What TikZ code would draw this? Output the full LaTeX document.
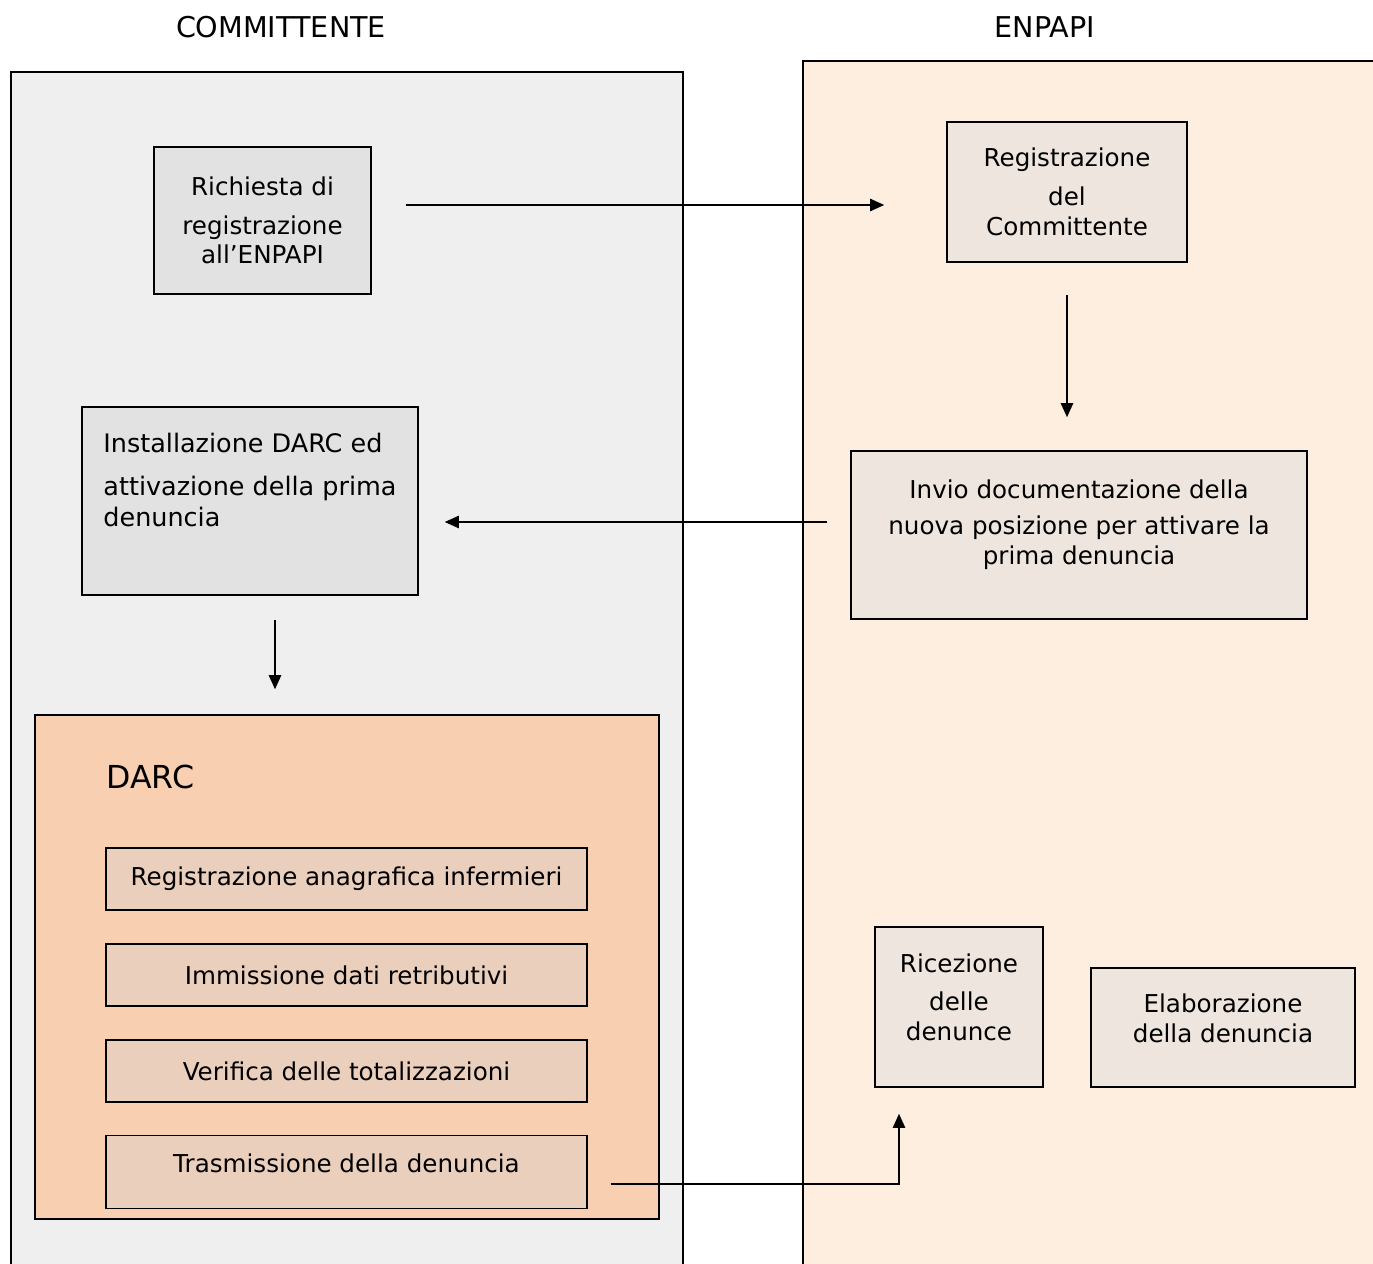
\documentclass[tikz,border=0pt]{standalone}
\usepackage{fontspec}
\setmainfont{DejaVu Sans}
\usetikzlibrary{arrows.meta,calc}

\definecolor{leftbg}{HTML}{EFEFEF}
\definecolor{rightbg}{HTML}{FDEEDF}
\definecolor{leftbox}{HTML}{E2E2E2}
\definecolor{rightbox}{HTML}{EEE6DE}
\definecolor{darcbg}{HTML}{F9CFB2}
\definecolor{darcrow}{HTML}{EBCFBD}

\begin{document}
\begin{tikzpicture}[x=0.02cm,y=-0.02cm,
    box/.style={draw,line width=0.9pt,inner sep=0pt,align=center,
      font=\fontsize{14}{17}\selectfont},
    arr/.style={-{Triangle[length=8pt,width=7pt]},line width=0.9pt}]
                \useasboundingbox (0,0) rectangle (1373,1264);
                \clip (0,0) rectangle (1373,1264);

                % Panels
                \fill[leftbg] (11,72) rectangle (683,1280);
                \draw[line width=0.9pt] (11,1280) -- (11,72) -- (683,72) -- (683,1280);
                \fill[rightbg] (803,61) rectangle (1390,1280);
                \draw[line width=0.9pt] (803,1280) -- (803,61) -- (1390,61);
                \node[font=\fontsize{16.3}{18}\selectfont] (comm) at (281,27) {COMMITTENTE};
                \node[font=\fontsize{16.3}{18}\selectfont] (enp) at (1045,27) {ENPAPI};

                % Committente
                \node[box,fill=leftbox,minimum width=4.34cm,minimum height=2.94cm] (ric) at (262.5,220.5)
                    {Richiesta di\\[5pt] registrazione\\ all’ENPAPI};
                \node[box,fill=leftbox,minimum width=6.72cm,minimum height=3.76cm,align=left,
                    font=\fontsize{14.5}{18}\selectfont] (inst) at (250,501)
                    {Installazione DARC ed\\[6pt] attivazione della prima\\ denuncia\\[5.8pt]};
                \node[draw,line width=0.9pt,fill=darcbg,minimum width=12.48cm,minimum height=10.08cm] (darc) at (347,967) {};
                \node[anchor=west,font=\fontsize{18}{20}\selectfont] (darclbl) at (100,777) {DARC};
                \node[box,fill=darcrow,minimum width=9.62cm,minimum height=1.24cm] (anag) at (346.5,879) {Registrazione anagrafica infermieri};
                \node[box,fill=darcrow,minimum width=9.62cm,minimum height=1.24cm] (imm) at (346.5,975) {Immissione dati retributivi};
                \node[box,fill=darcrow,minimum width=9.62cm,minimum height=1.24cm] (ver) at (346.5,1071) {Verifica delle totalizzazioni};
                \node[box,fill=darcrow,minimum width=9.62cm,minimum height=1.46cm] (tras) at (346.5,1172) {Trasmissione della denuncia\\[-6.8pt]};

                % ENPAPI
                \node[box,fill=rightbox,minimum width=4.8cm,minimum height=2.8cm] (reg) at (1067,192)
                    {Registrazione\\[5pt] del\\ Committente};
                \node[box,fill=rightbox,minimum width=9.12cm,minimum height=3.36cm] (inv) at (1079,535)
                    {Invio documentazione della\\[4pt] nuova posizione per attivare la\\ prima denuncia\\[-2.3pt]};
                \node[box,fill=rightbox,minimum width=3.36cm,minimum height=3.2cm] (ricz) at (959,1007)
                    {Ricezione\\[5pt] delle\\ denunce\\[-5.7pt]};
                \node[box,fill=rightbox,minimum width=5.28cm,minimum height=2.38cm] (elab) at (1223,1027.5)
                    {Elaborazione\\ della denuncia\\[-6.8pt]};

                % Flows
                \draw[arr] ($(ric.east)+(34,-15.5)$) -- ($(reg.west)+(-62,13)$);
                \draw[arr] ($(reg.south)+(0,32)$) -- ($(inv.north)+(-12,-33)$);
                \draw[arr] ($(inv.west)+(-23,-13)$) -- ($(inst.east)+(26,21)$);
                \draw[arr] ($(inst.south)+(25,24)$) -- ($(darc.north)+(-72,-25)$);
                \draw[arr] ($(tras.east)+(23,12)$) -| ($(ricz.south)+(-60,26)$);
            \end{tikzpicture}
\end{document}
